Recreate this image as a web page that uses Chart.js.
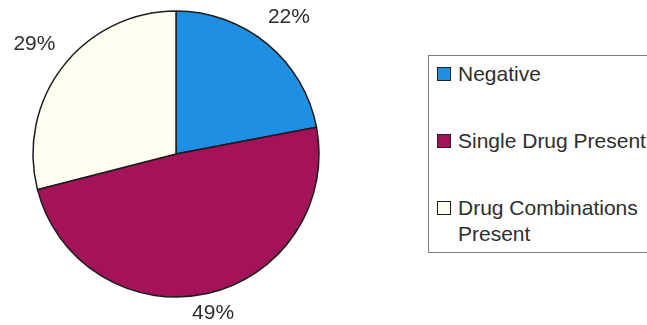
<!DOCTYPE html>
<html>
<head>
<meta charset="utf-8">
<script src="https://cdn.jsdelivr.net/npm/chart.js@4/dist/chart.umd.min.js"></script>
<style>
  html, body { margin: 0; padding: 0; background: #ffffff; overflow: hidden; }
  #wrap { position: relative; width: 647px; height: 325px; overflow: hidden; }
  #pie { position: absolute; left: 0; top: 0; }
  #legend {
    position: absolute; left: 428px; top: 55px; width: 240px; height: 198px;
    border: 1px solid #7c7c7c; box-sizing: border-box; background: #fff;
    font-family: "Liberation Sans", Arial, sans-serif; font-size: 21px; color: #2e2e2e;
  }
  .item { position: absolute; left: 8px; }
  .swatch { position: absolute; left: 0; width: 12px; height: 12px; border: 1px solid #222; }
  .text { position: absolute; left: 21px; width: 200px; line-height: 26px; white-space: normal; }
</style>
</head>
<body>
<div id="wrap">
  <canvas id="pie" width="647" height="325"></canvas>
  <div id="legend"></div>
</div>
<script>
// Share of cases by toxicology outcome
const categories = ["Negative", "Single Drug Present", "Drug Combinations Present"];
const shares = [22, 49, 29];
const sliceColors = ["#1f8fe4", "#a4135a", "#fffff0"];
// vertical centre of each legend row (first line)
const legendRowY = [18, 85, 152];

const labelFont = '21px "Liberation Sans", Arial, sans-serif';

// percentage labels outside each slice
const outsideLabels = {
  id: "outsideLabels",
  afterDatasetsDraw(chart) {
    const ctx = chart.ctx;
    const meta = chart.getDatasetMeta(0);
    const total = shares.reduce((a, b) => a + b, 0);
    ctx.save();
    ctx.font = labelFont;
    ctx.fillStyle = "#2e2e2e";
    ctx.textAlign = "center";
    ctx.textBaseline = "middle";
    meta.data.forEach((arc, i) => {
      const p = arc.getProps(["x", "y", "startAngle", "endAngle", "outerRadius"], true);
      const mid = (p.startAngle + p.endAngle) / 2;
      const text = Math.round(shares[i] / total * 100) + "%";
      const w = ctx.measureText(text).width;
      const h = 15;
      const ux = Math.cos(mid), uy = Math.sin(mid);
      const d = p.outerRadius + 15 + Math.abs(ux) * w / 2 + Math.abs(uy) * h / 2;
      let x = p.x + ux * d;
      let y = p.y + uy * d;
      y = Math.min(y, chart.height - h / 2 - 4);
      y = Math.max(y, h / 2 + 2);
      ctx.fillText(text, x, y);
    });
    ctx.restore();
  }
};

new Chart(document.getElementById("pie"), {
  type: "pie",
  data: {
    labels: categories,
    datasets: [{
      data: shares,
      backgroundColor: sliceColors,
      borderColor: "#1c1c1c",
      borderWidth: 1.5,
      radius: 143
    }]
  },
  options: {
    responsive: false,
    animation: false,
    layout: { padding: { left: 33, top: 11, right: 328, bottom: 28 } },
    plugins: {
      legend: { display: false },
      tooltip: { enabled: false }
    }
  },
  plugins: [outsideLabels]
});

// legend box built from the same category and colour arrays
const legend = document.getElementById("legend");
categories.forEach((name, i) => {
  const item = document.createElement("div");
  item.className = "item";
  item.style.top = (legendRowY[i] - 13) + "px";
  const sw = document.createElement("div");
  sw.className = "swatch";
  sw.style.background = sliceColors[i];
  sw.style.top = "6px";
  const tx = document.createElement("div");
  tx.className = "text";
  tx.style.top = "0px";
  tx.textContent = name;
  item.appendChild(sw);
  item.appendChild(tx);
  legend.appendChild(item);
});
</script>
</body>
</html>
